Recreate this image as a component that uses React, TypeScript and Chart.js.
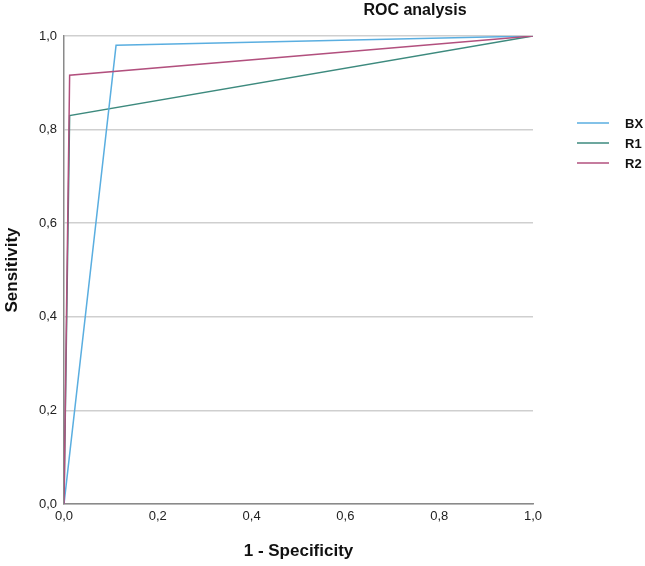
import React, { useEffect, useRef } from "react";
import { Chart, registerables } from "chart.js";

Chart.register(...registerables);

const chartTitle = "ROC analysis";
const xAxisTitle = "1 - Specificity";
const yAxisTitle = "Sensitivity";
const tickLabels = ["0,0", "0,2", "0,4", "0,6", "0,8", "1,0"];

const seriesNames = ["BX", "R1", "R2"];
const seriesColors = ["#5aaee0", "#3d8a7e", "#b2507e"];
const seriesOrder = [1, 2, 0];
const bxX = [0, 0.111, 1];
const bxY = [0, 0.98, 1];
const r1X = [0, 0.012, 1];
const r1Y = [0, 0.83, 1];
const r2X = [0, 0.012, 1];
const r2Y = [0, 0.916, 1];

const FONT = "'Liberation Sans', Arial, Helvetica, sans-serif";

const toPoints = (xs: number[], ys: number[]) => xs.map((x, i) => ({ x, y: ys[i] }));

export default function App() {
  const ref = useRef<HTMLCanvasElement | null>(null);
  useEffect(() => {
    document.body.style.margin = "0";
    const xsAll = [bxX, r1X, r2X];
    const ysAll = [bxY, r1Y, r2Y];
    const decor = {
      id: "decor",
      afterDraw(chart: any) {
        const ctx = chart.ctx;
        const ca = chart.chartArea;
        ctx.save();
        ctx.fillStyle = "#111";
        ctx.font = `bold 16px ${FONT}`;
        ctx.textAlign = "center";
        ctx.textBaseline = "middle";
        ctx.fillText(chartTitle, 415, 11);
        ctx.font = `bold 13px ${FONT}`;
        ctx.textAlign = "left";
        chart.data.datasets.forEach((ds: any, i: number) => {
          const y = ca.top + 87 + i * 20;
          ctx.strokeStyle = ds.borderColor;
          ctx.lineWidth = 1.5;
          ctx.beginPath();
          ctx.moveTo(ca.right + 44, y);
          ctx.lineTo(ca.right + 76, y);
          ctx.stroke();
          ctx.fillStyle = "#111";
          ctx.fillText(ds.label, ca.right + 92, y + 1);
        });
        ctx.restore();
      },
    };
    const chart = new Chart(ref.current!, {
      type: "line",
      data: {
        datasets: seriesNames.map((name, i) => ({
          label: name,
          data: toPoints(xsAll[i], ysAll[i]),
          borderColor: seriesColors[i],
          backgroundColor: seriesColors[i],
          borderWidth: 1.5,
          pointRadius: 0,
          tension: 0,
          fill: false,
          order: seriesOrder[i],
        })),
      },
      options: {
        animation: false,
        responsive: false,
        maintainAspectRatio: false,
        layout: { padding: { top: 36, right: 112, left: 0, bottom: 0 } },
        plugins: { legend: { display: false }, title: { display: false }, tooltip: { enabled: false } },
        scales: {
          x: {
            type: "linear",
            min: 0,
            max: 1,
            afterFit: (s: any) => { s.height = 62; },
            ticks: {
              stepSize: 0.2,
              padding: 5,
              color: "#222",
              font: { family: FONT, size: 13 },
              callback: (_v: any, i: number) => tickLabels[i],
            },
            grid: { display: false, drawTicks: false },
            border: { display: true, color: "#8a8a8a", width: 1.5 },
            title: {
              display: true,
              text: xAxisTitle,
              color: "#111",
              font: { family: FONT, size: 17, weight: "bold" },
              padding: { top: 4, bottom: 4 },
            },
          },
          y: {
            type: "linear",
            min: 0,
            max: 1,
            afterFit: (s: any) => { s.width = 64; },
            ticks: {
              stepSize: 0.2,
              padding: 7,
              color: "#222",
              font: { family: FONT, size: 13 },
              callback: (_v: any, i: number) => tickLabels[i],
            },
            grid: { display: true, drawTicks: false, color: "#cfcfcf", lineWidth: 1.5 },
            border: { display: true, color: "#8a8a8a", width: 1.5 },
            title: {
              display: true,
              text: yAxisTitle,
              color: "#111",
              font: { family: FONT, size: 17, weight: "bold" },
              padding: { top: 2, bottom: 4 },
            },
          },
        },
      },
      plugins: [decor],
    });
    return () => chart.destroy();
  }, []);
  return (
    <div style={{ width: 645, height: 566 }}>
      <canvas ref={ref} width={645} height={566} style={{ display: "block", width: 645, height: 566 }} />
    </div>
  );
}
